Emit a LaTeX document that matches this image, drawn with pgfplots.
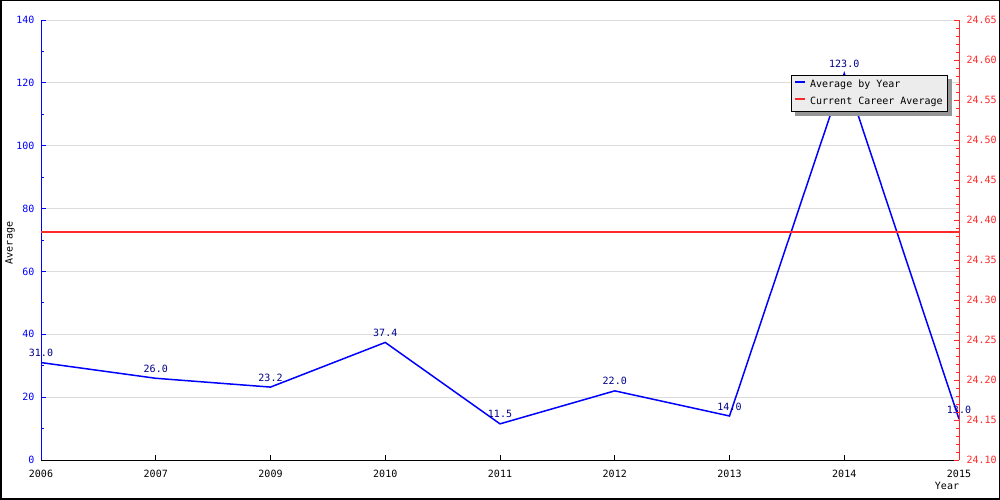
\documentclass[border=0pt]{standalone}
\usepackage{fontspec}
\setmainfont{DejaVu Sans Mono}
\usepackage{pgfplots}
\pgfplotsset{compat=1.18}
\definecolor{myblue}{RGB}{0,0,255}
\definecolor{myred}{RGB}{255,40,40}
\definecolor{labelnavy}{RGB}{0,0,140}
\definecolor{gridgray}{RGB}{220,220,220}
\definecolor{shadowgray}{RGB}{150,150,150}
\newcommand{\tf}{\fontsize{10}{12}\selectfont}
\begin{document}
\begin{tikzpicture}[x=1pt,y=1pt]
\tf
\useasboundingbox (0,0) rectangle (1000,500);
\draw[black, line width=1.5pt] (0.75,0.75) rectangle (999.25,499.25);
\begin{axis}[
  at={(41pt,40pt)}, anchor=south west, scale only axis,
  width=918pt, height=440pt,
  xmin=0, xmax=8, ymin=0, ymax=140,
  /pgf/number format/assume math mode=true,
  axis x line*=bottom, axis y line*=left,
  x axis line style={black, line width=1pt},
  y axis line style={myblue, line width=1pt},
  xtick={0,1,2,3,4,5,6,7,8},
  xticklabels={2006,2007,2009,2010,2011,2012,2013,2014,2015},
  ytick={0,20,40,60,80,100,120,140},
  minor ytick={10,30,50,70,90,110,130},
  tick align=inside,
  major tick length=5pt, minor tick length=3pt,
  xtick style={black, line width=0.8pt},
  ytick style={myblue, line width=0.8pt},
  yticklabel style={myblue, font=\tf, xshift=-3pt},
  xticklabel style={black, font=\tf, yshift=-7pt},
  ymajorgrids, grid style={gridgray, line width=0.8pt},
  clip=false,
  legend style={name=leg, at={(rel axis cs:0.988,0.875)}, anchor=north east,
    fill=gray!15, draw=black, line width=0.8pt,
    font=\tf,
    inner xsep=3pt, inner ysep=3pt, row sep=4pt},
  legend cell align=left,
  legend image code/.code={\draw[#1, line width=2pt] (0pt,3pt) -- (10pt,3pt); \path (12pt,3pt);},
]
\addplot[myblue, line width=1.5pt,
  nodes near coords,
  point meta=explicit symbolic,
  every node near coord/.append style={labelnavy, font=\tf, anchor=south, inner sep=1pt, yshift=4pt}]
  coordinates {
  (0,31.0) [31.0]
  (1,26.0) [26.0]
  (2,23.2) [23.2]
  (3,37.4) [37.4]
  (4,11.5) [11.5]
  (5,22.0) [22.0]
  (6,14.0) [14.0]
  (7,123.0) [123.0]
  (8,13.0) [13.0]
};
\addlegendentry{Average by Year}
\addlegendimage{myred, line width=2pt}
\addlegendentry{Current Career Average}
\end{axis}
\fill[shadowgray] ([shift={(0.4pt,-4pt)}]leg.north east) rectangle ([shift={(4pt,-4pt)}]leg.south east);
\fill[shadowgray] ([shift={(4pt,-0.4pt)}]leg.south west) rectangle ([shift={(0.4pt,-4pt)}]leg.south east);
\begin{axis}[
  at={(41pt,40pt)}, anchor=south west, scale only axis,
  width=918pt, height=440pt,
  xmin=0, xmax=8, ymin=24.10, ymax=24.65,
  /pgf/number format/assume math mode=true,
  axis x line=none, axis y line*=right,
  y axis line style={myred, line width=1pt},
  xtick=\empty,
  ytick={24.10,24.15,24.20,24.25,24.30,24.35,24.40,24.45,24.50,24.55,24.60,24.65},
  minor y tick num=4,
  tick align=inside,
  major tick length=5pt, minor tick length=3pt,
  ytick style={myred, line width=0.8pt},
  yticklabel style={myred, font=\tf, xshift=4pt,
    /pgf/number format/fixed, /pgf/number format/fixed zerofill,
    /pgf/number format/precision=2},
  scaled y ticks=false,
]
\addplot[myred, line width=2pt] coordinates {(0,24.385) (8,24.385)};
\end{axis}
\node[rotate=90, font=\tf] at (10,257) {Average};
\node[font=\tf] at (947,14) {Year};
\end{tikzpicture}
\end{document}
